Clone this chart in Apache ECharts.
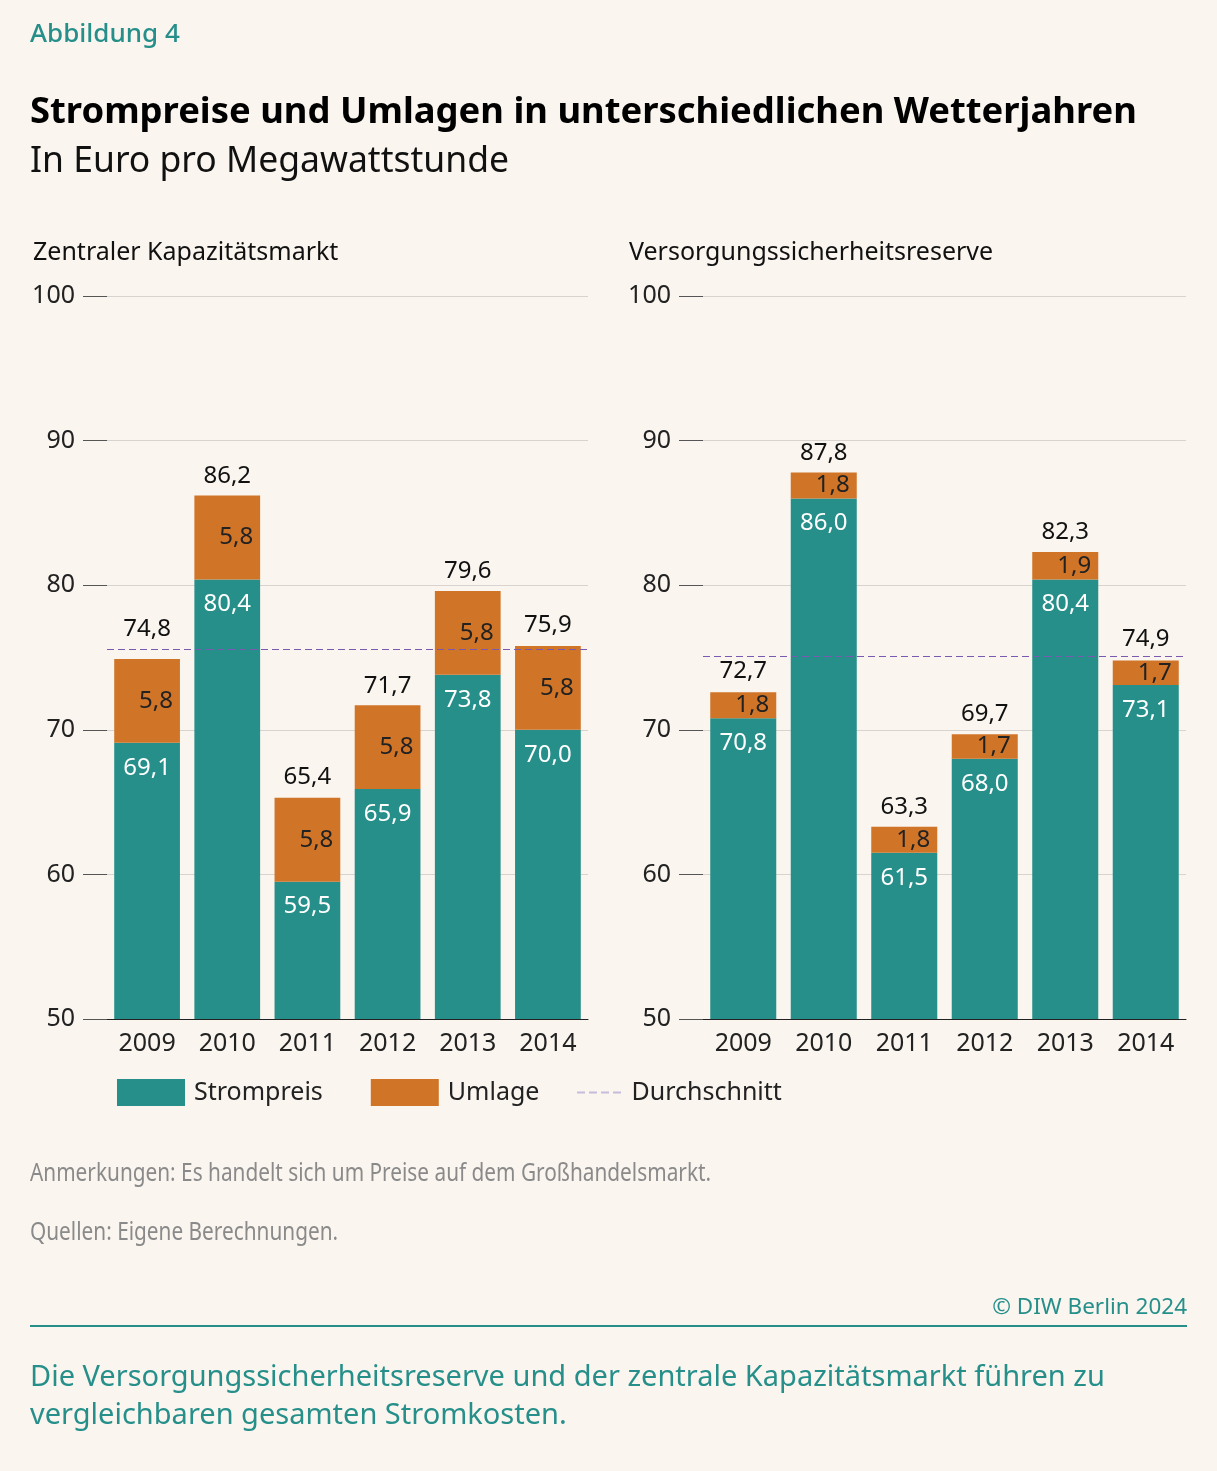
<!DOCTYPE html>
<html>
<head>
<meta charset="utf-8">
<script src="https://cdn.jsdelivr.net/npm/echarts@6/dist/echarts.min.js"></script>
<style>
    html, body {margin: 0; padding: 0; background: #faf5ef;}
    #chart {width: 1217px; height: 1471px;}
</style>
</head>
<body>
<div id="chart"></div>
<script>
// Daten
const years = ['2009', '2010', '2011', '2012', '2013', '2014'];
const yTicks = [50, 60, 70, 80, 90, 100];

// Zentraler Kapazitätsmarkt
const preisKap = [69.1, 80.4, 59.5, 65.9, 73.8, 70.0];
const umlageKap = [5.8, 5.8, 5.8, 5.8, 5.8, 5.8];
const summeKap = [74.8, 86.2, 65.4, 71.7, 79.6, 75.9];

// Versorgungssicherheitsreserve
const preisRes = [70.8, 86.0, 61.5, 68.0, 80.4, 73.1];
const umlageRes = [1.8, 1.8, 1.8, 1.7, 1.9, 1.7];
const summeRes = [72.7, 87.8, 63.3, 69.7, 82.3, 74.9];

const TEAL = '#268f8a';
const ORANGE = '#d07428';
const FONT = '"Noto Sans", "Open Sans", sans-serif';

const fmt = v => v.toFixed(1).replace('.', ',');
const mean = arr => arr.reduce((a, b) => a + b, 0) / arr.length;

//Summenlabel über der Durchschnittslinie etwas anheben
const labelLift = {kap: {0: 12}};

const chart = echarts.init(document.getElementById('chart'));

const grids = [
    {left: 107, width: 481, top: 296, height: 723},
    {left: 703, width: 483, top: 296, height: 723}
];

const makeXAxis = idx => ({
    type: 'category',
    gridIndex: idx,
    data: years,
    axisLine: {lineStyle: {color: '#222', width: 1}},
    axisTick: {show: false},
    axisLabel: {color: '#222', fontSize: 25, fontFamily: FONT, margin: 12}
});

const makeYAxis = idx => ({
    type: 'value',
    gridIndex: idx,
    min: yTicks[0],
    max: yTicks[yTicks.length - 1],
    interval: 10,
    axisLine: {show: false},
    axisTick: {show: true, length: 24, lineStyle: {color: '#555', width: 1}},
    axisLabel: {color: '#222', fontSize: 25, fontFamily: FONT, margin: 32,
        formatter: v => String(v)},
    splitLine: {lineStyle: {color: '#d8d3ce', width: 1}}
});

const makeSeries = (idx, preis, umlage, summe, stackName) => [
    {
        name: 'Strompreis',
        type: 'bar',
        xAxisIndex: idx,
        yAxisIndex: idx,
        stack: stackName,
        barCategoryGap: '18%',
        data: preis,
        itemStyle: {color: TEAL},
        label: {
            show: true, position: 'insideTop', distance: 13,
            color: '#fff', fontSize: 24, fontFamily: FONT,
            formatter: p => fmt(p.value)
        }
    },
    {
        name: 'Umlage',
        type: 'bar',
        xAxisIndex: idx,
        yAxisIndex: idx,
        stack: stackName,
        data: umlage,
        itemStyle: {color: ORANGE},
        label: {
            show: true, position: 'insideRight', distance: 7,
            color: '#222', fontSize: 24, fontFamily: FONT,
            formatter: p => fmt(p.value)
        },
        markLine: {
            silent: true,
            symbol: 'none',
            label: {show: false},
            lineStyle: {color: '#7a5ab0', type: [7, 4], width: 1.2},
            data: [{yAxis: +mean(summe).toFixed(1)}]
        }
    },
    {
        name: 'Summe',
        type: 'scatter',
        xAxisIndex: idx,
        yAxisIndex: idx,
        data: summe.map((v, i) => {
            const lift = (labelLift[stackName] || {})[i];
            return lift ? {value: v, label: {distance: 7 + lift}} : v;
        }),
        symbolSize: 1,
        itemStyle: {color: 'rgba(0,0,0,0)', opacity: 1},
        z: 5,
        label: {
            show: true, position: 'top', distance: 7,
            color: '#111', fontSize: 24, fontFamily: FONT,
            formatter: p => fmt(p.value)
        }
    }
];

const legendText = {color: '#222', fontSize: 25, fontFamily: FONT, lineHeight: 27, padding: [0, 0, 0, 4]};

const option = {
    backgroundColor: '#faf5ef',
    animation: false,
    textStyle: {fontFamily: FONT},
    grid: grids,
    xAxis: [makeXAxis(0), makeXAxis(1)],
    yAxis: [makeYAxis(0), makeYAxis(1)],
    legend: [
        {
            left: 117, top: 1079, padding: 0,
            itemWidth: 68, itemHeight: 27, itemGap: 48,
            icon: 'rect',
            data: ['Strompreis', 'Umlage'],
            textStyle: legendText,
            selectedMode: false
        },
        {
            left: 577, top: 1079, padding: 0,
            itemWidth: 45, itemHeight: 2,
            data: [{name: 'Durchschnitt', icon: 'path://M0,0h8v2h-8zM12,0h8v2h-8zM24,0h8v2h-8zM36,0h8v2h-8z'}],
            textStyle: Object.assign({}, legendText, {padding: [0, 0, 0, 5]}),
            selectedMode: false
        }
    ],
    series: [
        ...makeSeries(0, preisKap, umlageKap, summeKap, 'kap'),
        ...makeSeries(1, preisRes, umlageRes, summeRes, 'res'),
        {
            name: 'Durchschnitt',
            type: 'line',
            data: [],
            symbol: 'none',
            lineStyle: {color: '#c6bcdc', type: [8, 5], width: 2},
            itemStyle: {color: '#c6bcdc'}
        }
    ],
    graphic: [
        {type: 'text', left: 30, top: 22, style: {text: 'Abbildung 4', fill: TEAL, font: '500 26px ' + FONT}},
        {type: 'text', left: 30, top: 95, style: {text: 'Strompreise und Umlagen in unterschiedlichen Wetterjahren', fill: '#000', font: 'bold 36.4px ' + FONT}},
        {type: 'text', left: 30, top: 144, style: {text: 'In Euro pro Megawattstunde', fill: '#111', font: '35.5px ' + FONT}},
        {type: 'text', left: 33, top: 240, style: {text: 'Zentraler Kapazitätsmarkt', fill: '#111', font: '25px ' + FONT}},
        {type: 'text', left: 629, top: 240, style: {text: 'Versorgungssicherheitsreserve', fill: '#111', font: '25px ' + FONT}},
        {type: 'text', x: 30, y: 1161, scaleX: 0.80, style: {text: 'Anmerkungen: Es handelt sich um Preise auf dem Großhandelsmarkt.', fill: '#8a8a8a', font: '26px ' + FONT}},
        {type: 'text', x: 30, y: 1220, scaleX: 0.80, style: {text: 'Quellen: Eigene Berechnungen.', fill: '#8a8a8a', font: '26px ' + FONT}},
        {type: 'text', right: 30, top: 1296, style: {text: '© DIW Berlin 2024', fill: TEAL, font: '22.5px ' + FONT}},
        {type: 'line', shape: {x1: 30, y1: 1326, x2: 1187, y2: 1326}, style: {stroke: TEAL, lineWidth: 2}},
        {type: 'text', left: 30, top: 1359, style: {text: 'Die Versorgungssicherheitsreserve und der zentrale Kapazitätsmarkt führen zu\nvergleichbaren gesamten Stromkosten.', fill: TEAL, font: '29px ' + FONT, lineHeight: 38}}
    ]
};

chart.setOption(option);
</script>
</body>
</html>
